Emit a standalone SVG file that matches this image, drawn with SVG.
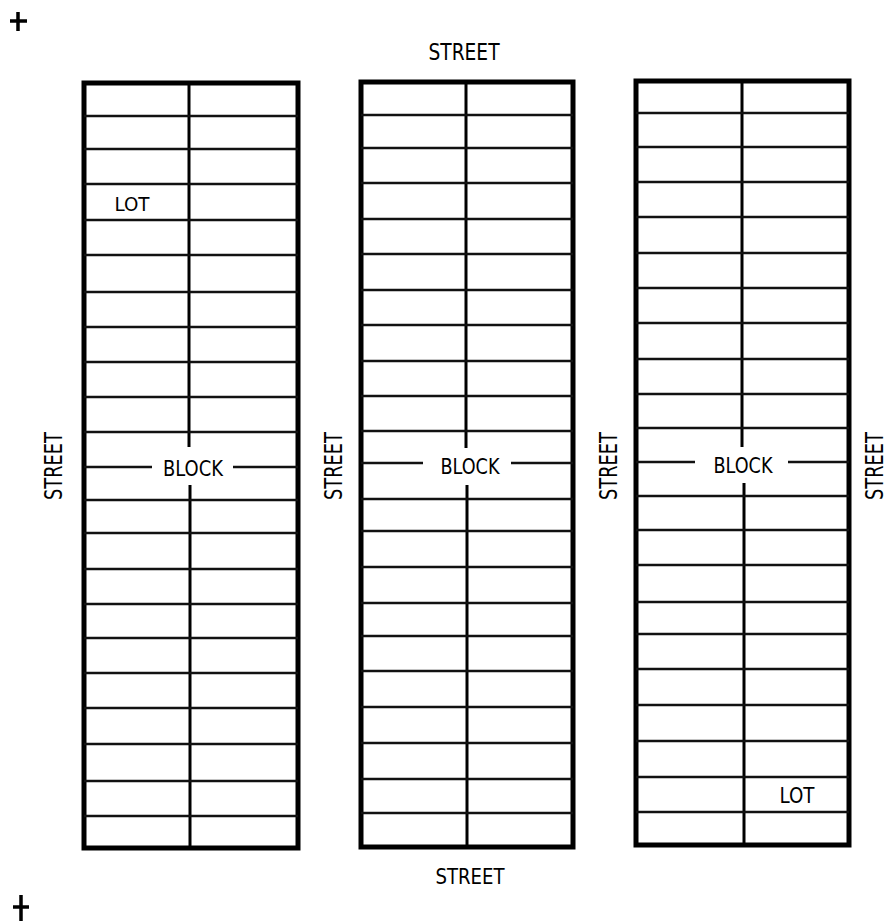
<svg xmlns="http://www.w3.org/2000/svg" width="888" height="921" viewBox="0 0 888 921">
<style>
.outer{fill:none;stroke:#000;stroke-width:5;stroke-linejoin:miter}
.mid{stroke:#000;stroke-width:3;fill:none}
.lot{stroke:#111;stroke-width:2.4;fill:none}
.lbl{font-family:"Liberation Sans Narrow","DejaVu Sans Condensed","Liberation Sans",sans-serif;fill:#000}
.side{font-family:"DejaVu Sans","Liberation Sans",sans-serif;fill:#000}
.mark{stroke:#000;stroke-width:3.5;fill:none}
</style>
<rect width="888" height="921" fill="#fff"/>
<g id="marks">
<path class="mark" d="M10 21H27M18 12V31"/>
<path class="mark" d="M13 907H29M21 895V921"/>
</g>
<g id="street-labels">
<text class="lbl" x="464" y="60" font-size="23" text-anchor="middle" textLength="71" lengthAdjust="spacingAndGlyphs">STREET</text>
<text class="lbl" x="470" y="884" font-size="22" text-anchor="middle" textLength="69" lengthAdjust="spacingAndGlyphs">STREET</text>
<text class="side" transform="translate(62,500) rotate(-90)" font-size="24" textLength="68" lengthAdjust="spacingAndGlyphs">STREET</text>
<text class="side" transform="translate(342,500) rotate(-90)" font-size="24" textLength="68" lengthAdjust="spacingAndGlyphs">STREET</text>
<text class="side" transform="translate(617,500) rotate(-90)" font-size="24" textLength="68" lengthAdjust="spacingAndGlyphs">STREET</text>
<text class="side" transform="translate(883,500) rotate(-90)" font-size="24" textLength="68" lengthAdjust="spacingAndGlyphs">STREET</text>
</g>
<g id="block1">
<rect class="outer" x="84" y="83" width="214" height="765"/>
<path class="mid" d="M189 83V447M190 485V848"/>
<path class="lot" d="M84 116H298M84 149H298M84 184H298M84 220H298M84 255H298M84 292H298M84 327H298M84 362H298M84 397H298M84 432H298M84 467H152M233 467H298M84 500H298M84 533H298M84 569H298M84 604H298M84 638H298M84 673H298M84 708H298M84 744H298M84 781H298M84 816H298"/>
<text class="lbl" x="193" y="476" font-size="21" text-anchor="middle" textLength="60" lengthAdjust="spacingAndGlyphs">BLOCK</text>
<text class="lbl" x="132" y="211" font-size="19" text-anchor="middle" textLength="35" lengthAdjust="spacingAndGlyphs">LOT</text>
</g>
<g id="block2">
<rect class="outer" x="361" y="82" width="212" height="765"/>
<path class="mid" d="M466 82V448M467 485V847"/>
<path class="lot" d="M361 115H573M361 148H573M361 183H573M361 219H573M361 254H573M361 290H573M361 325H573M361 361H573M361 396H573M361 431H573M361 463H423M511 463H573M361 499H573M361 531H573M361 567H573M361 603H573M361 636H573M361 671H573M361 707H573M361 743H573M361 779H573M361 813H573"/>
<text class="lbl" x="470" y="474" font-size="21" text-anchor="middle" textLength="59" lengthAdjust="spacingAndGlyphs">BLOCK</text>
</g>
<g id="block3">
<rect class="outer" x="636" y="81" width="213" height="764"/>
<path class="mid" d="M742 81V447M744 483V845"/>
<path class="lot" d="M636 113H849M636 147H849M636 182H849M636 217H849M636 253H849M636 288H849M636 323H849M636 359H849M636 394H849M636 428H849M636 462H695M788 462H849M636 496H849M636 530H849M636 565H849M636 602H849M636 634H849M636 669H849M636 705H849M636 741H849M636 777H849M636 812H849"/>
<text class="lbl" x="743" y="473" font-size="21" text-anchor="middle" textLength="59" lengthAdjust="spacingAndGlyphs">BLOCK</text>
<text class="lbl" x="797" y="803" font-size="21" text-anchor="middle" textLength="35" lengthAdjust="spacingAndGlyphs">LOT</text>
</g>
<g id="connectors"/>
</svg>
